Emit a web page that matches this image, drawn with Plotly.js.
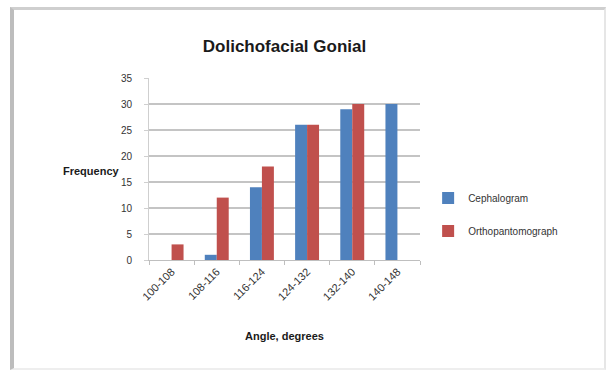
<!DOCTYPE html>
<html>
<head>
<meta charset="utf-8">
<script src="https://cdn.plot.ly/plotly-3.0.1.min.js"></script>
<style>
  html, body { margin: 0; padding: 0; background: #ffffff; }
  #wrap { position: relative; width: 614px; height: 370px; overflow: hidden; }
  #frame {
    position: absolute; left: 10px; top: 7px; width: 590px; height: 358px;
    border-top: 3px solid #cfcfcf; border-left: 4px solid #bdbdbd;
    border-right: 2px solid #e6e6e6; border-bottom: 2px solid #eeeeee;
    pointer-events: none; z-index: 2;
  }
  #chart { position: absolute; left: 0; top: 0; width: 614px; height: 370px; }
</style>
</head>
<body>
<div id="wrap">
  <div id="chart"></div>
  <div id="frame"></div>
</div>
<script>
// Gonial angle bins and frequencies for each imaging method
const angleBins = ["100-108", "108-116", "116-124", "124-132", "132-140", "140-148"];
const cephalogram = [0, 1, 14, 26, 29, 30];
const orthopantomograph = [3, 12, 18, 26, 30, 0];
const yTicks = [0, 5, 10, 15, 20, 25, 30, 35];

const baseFont = "Liberation Sans, Arial, sans-serif";

const traces = [
  {
    type: "bar", name: "Cephalogram", x: angleBins, y: cephalogram,
    marker: { color: "#4f81bd" }, legendgroup: "a"
  },
  {
    type: "bar", name: "Orthopantomograph", x: angleBins, y: orthopantomograph,
    marker: { color: "#c0504d" }, legendgroup: "b"
  }
];

const layout = {
  width: 614, height: 370,
  margin: { l: 149, r: 194, t: 78, b: 110 },
  paper_bgcolor: "#ffffff", plot_bgcolor: "#ffffff",
  barmode: "group", bargap: 0.47, bargroupgap: 0,
  showlegend: true,
  title: {
    text: "<b>Dolichofacial Gonial</b>",
    font: { family: baseFont, size: 17, color: "#1a1a1a" },
    x: 0.5, xanchor: "center", xref: "paper",
    y: 0.875, yref: "container", yanchor: "middle"
  },
  xaxis: {
    type: "category",
    tickangle: -45,
    tickfont: { family: baseFont, size: 11, color: "#333333" },
    showline: true, linecolor: "#bfbfbf", linewidth: 1,
    ticks: "outside", ticklen: 4, tickcolor: "#bfbfbf", tickson: "boundaries",
    showgrid: false, zeroline: false,
    title: {
      text: "<b>Angle, degrees</b>",
      font: { family: baseFont, size: 11, color: "#1a1a1a" },
      standoff: 30
    }
  },
  yaxis: {
    range: [0, 35], tickvals: yTicks, ticktext: yTicks.map(String),
    tickfont: { family: baseFont, size: 10, color: "#333333" },
    showline: true, linecolor: "#cfcfcf", linewidth: 1,
    ticks: "outside", ticklen: 4, tickcolor: "#cfcfcf",
    ticklabelstandoff: 10,
    showgrid: true, gridcolor: "#c4c4c4", gridwidth: 1.5,
    zeroline: false
  },
  legend: {
    x: 1.03, xanchor: "left", y: 0.25, yanchor: "middle",
    traceorder: "grouped", tracegroupgap: 14,
    font: { family: baseFont, size: 10, color: "#333333" },
    itemwidth: 30, bgcolor: "rgba(0,0,0,0)"
  },
  annotations: [
    {
      text: "<b>Frequency</b>", xref: "paper", yref: "paper",
      x: -0.214, y: 0.49, xanchor: "center", yanchor: "middle",
      showarrow: false, font: { family: baseFont, size: 11, color: "#1a1a1a" }
    }
  ]
};

Plotly.newPlot("chart", traces, layout, { displayModeBar: false, staticPlot: true });
</script>
</body>
</html>
